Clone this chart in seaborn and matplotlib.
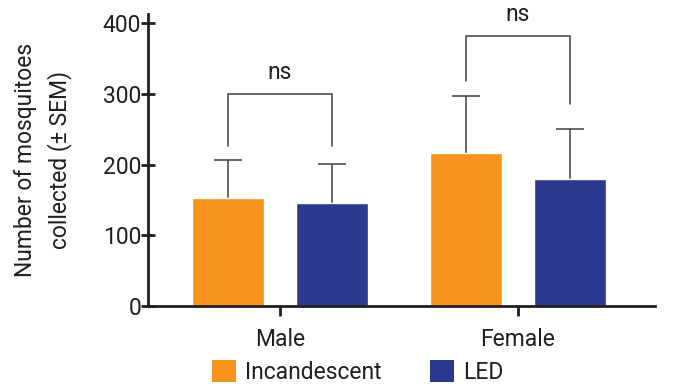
import matplotlib
matplotlib.use("Agg")
import matplotlib.pyplot as plt
import seaborn as sns
import pandas as pd
from matplotlib.patches import Patch

sexes = ["Male", "Female"]
lights = ["Incandescent", "LED"]
means_incandescent = [153, 216]
means_led = [146, 180]
sem_incandescent = [54, 81]
sem_led = [55, 70]
sig_labels = ["ns", "ns"]
bracket_top = [300, 382]
bracket_left_leg = [227, 318]
bracket_right_leg = [227, 285]
y_ticks = [0, 100, 200, 300, 400]

sns.set_style("ticks")
plt.rcParams["font.family"] = ["Roboto", "DejaVu Sans"]
TXT = "#231F20"
FS = 16.5
colors = {"Incandescent": "#F7941D", "LED": "#2B3990"}

df = pd.DataFrame({
    "sex": sexes * 2,
    "light": ["Incandescent"] * 2 + ["LED"] * 2,
    "mean": means_incandescent + means_led,
    "sem": sem_incandescent + sem_led,
})

fig = plt.figure(figsize=(6.78, 3.87), dpi=100)
ax = fig.add_axes([148 / 678, 1 - 306 / 387, (655 - 148) / 678, (306 - 14) / 387])

sns.barplot(data=df, x="sex", y="mean", hue="light", order=sexes, hue_order=lights,
            palette=colors, errorbar=None, width=0.874, gap=0.31, saturation=1,
            legend=False, ax=ax, zorder=2)

# error bars (upper only) from bar patches, drawn behind bars so only upper part shows
centers = {}
for container, light in zip(ax.containers, lights):
    for bar, sex in zip(container, sexes):
        cx = bar.get_x() + bar.get_width() / 2
        row = df[(df.sex == sex) & (df.light == light)].iloc[0]
        centers[(sex, light)] = cx
        ax.errorbar(cx, row["mean"], yerr=[[row["sem"]], [row["sem"]]], fmt="none",
                    ecolor="#404040", elinewidth=1.1, capsize=10, capthick=1.1, zorder=1)

for i, sex in enumerate(sexes):
    x1 = centers[(sex, "Incandescent")]
    x2 = centers[(sex, "LED")]
    ax.plot([x1, x1, x2, x2], [bracket_left_leg[i], bracket_top[i], bracket_top[i], bracket_right_leg[i]],
            color="#404040", lw=1.1, clip_on=False)
    ax.text((x1 + x2) / 2, bracket_top[i] + 14, sig_labels[i], ha="center", va="bottom",
            fontsize=FS, color=TXT, clip_on=False)

ax.set_xlim(-0.555, 1.576)
ax.set_ylim(0, 413)
ax.set_yticks(y_ticks)
ax.set_yticklabels([str(t) for t in y_ticks])
ax.set_xlabel("")
ax.set_ylabel("Number of mosquitoes\ncollected (± SEM)", fontsize=FS, color=TXT, labelpad=22,
              linespacing=1.5)
sns.despine(ax=ax)
for s in ["left", "bottom"]:
    ax.spines[s].set_linewidth(2.0)
    ax.spines[s].set_color(TXT)
ax.tick_params(axis="y", direction="inout", length=10, width=2.0, color=TXT,
               labelsize=FS, labelcolor=TXT, pad=0)
ax.tick_params(axis="x", direction="out", length=7, width=2.0, color=TXT,
               labelsize=FS, labelcolor=TXT, pad=9)

handles = [Patch(facecolor=colors[l], edgecolor="none", label=l) for l in lights]
fig.legend(handles=handles, loc="center", bbox_to_anchor=(358 / 678, 1 - 372 / 387), ncol=2,
           frameon=False, fontsize=FS, handlelength=1.05, handleheight=1.05,
           handletextpad=0.4, columnspacing=2.1, labelcolor=TXT, borderaxespad=0)

fig.savefig("out.png", dpi=100)
